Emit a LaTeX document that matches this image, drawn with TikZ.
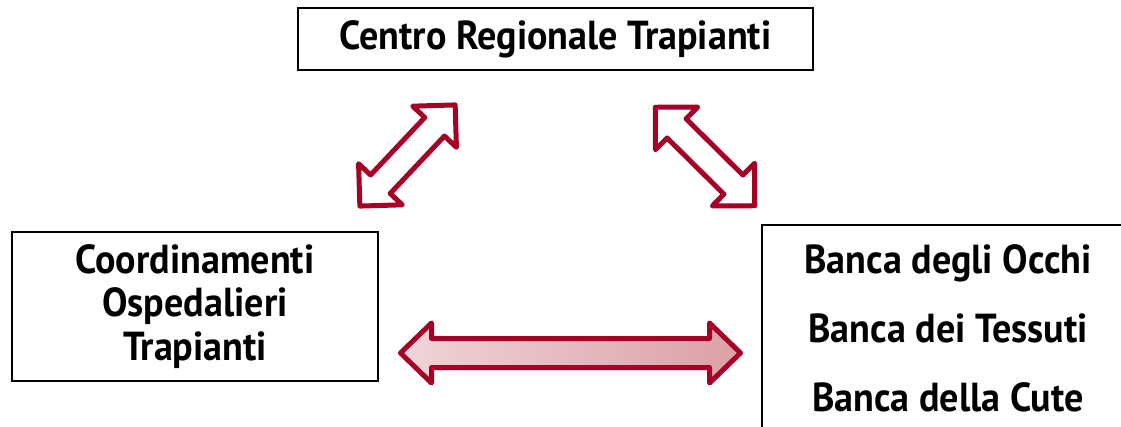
\documentclass[tikz,border=0pt]{standalone}
\usepackage{fontspec}
\setmainfont{PT Sans}[FakeStretch=0.94]
\definecolor{arrowred}{RGB}{166,0,38}
\definecolor{shadeA}{RGB}{240,212,217}
\definecolor{shadeB}{RGB}{219,160,166}
\tikzset{
  box/.style={draw=black, line width=2pt, align=center, inner sep=0pt,
    font=\fontsize{40.5}{43.5}\selectfont\bfseries},
  arrowline/.style={draw=arrowred, line width=5pt, line join=round},
}
\newcommand{\dblarrowshape}[4]{% L/2, shaft half, head half, head length
  (-#1,0) -- ({-#1+#4},#3) -- ({-#1+#4},#2) -- ({#1-#4},#2) -- ({#1-#4},#3) -- (#1,0)
  -- ({#1-#4},-#3) -- ({#1-#4},-#2) -- ({-#1+#4},-#2) -- ({-#1+#4},-#3) -- cycle}
\begin{document}
\begin{tikzpicture}[x=1pt,y=1pt]
\useasboundingbox (0,0) rectangle (1121,426);
\clip (0,0) rectangle (1121,426);
\fill[white] (0,0) rectangle (1121,426);
\node[box, minimum width=515, minimum height=62] (crt) at (555.5,387) {Centro Regionale Trapianti};
\node[box, minimum width=366, minimum height=149] (cot) at (195,119.5) {Coordinamenti\\Ospedalieri\\Trapianti};
\node[box, minimum width=372, minimum height=206, font=\fontsize{40.5}{69}\selectfont\bfseries] (banche) at (948,98) {Banca degli Occhi\\Banca dei Tessuti\\Banca della Cute};
\begin{scope}[shift={(407.5,270.5)}, rotate=46.7]
  \draw[arrowline, fill=white] \dblarrowshape{69.5}{13.5}{30}{30};
\end{scope}
\begin{scope}[shift={(705,269.5)}, rotate=135.3]
  \draw[arrowline, fill=white] \dblarrowshape{70}{13.5}{30}{30};
\end{scope}
\begin{scope}[shift={(570.5,73)}]
  \draw[arrowline, left color=shadeA, right color=shadeB] \dblarrowshape{170}{14.5}{30}{31};
\end{scope}
\end{tikzpicture}
\end{document}
